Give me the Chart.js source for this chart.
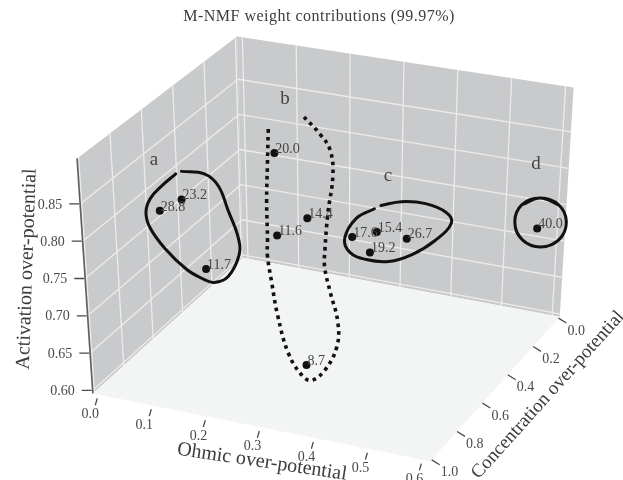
<!DOCTYPE html>
<html>
<head>
<meta charset="utf-8">
<style>
  html, body { margin: 0; padding: 0; background: #fff; }
  #wrap { width: 623px; height: 480px; }
</style>
<script src="https://cdn.jsdelivr.net/npm/chart.js@4/dist/chart.umd.min.js"></script>
</head>
<body>
<div id="wrap"><canvas id="chart" width="623" height="480"></canvas></div>
<script>
const ohmicTicks      = [0.0, 0.1, 0.2, 0.3, 0.4, 0.5, 0.6];
const concTicks       = [0.0, 0.2, 0.4, 0.6, 0.8, 1.0];
const activationTicks = [0.60, 0.65, 0.70, 0.75, 0.80, 0.85];

const weights       = [28.8, 23.2, 11.7, 20.0, 14.4, 11.6, 8.7, 17.6, 15.4, 19.2, 26.7, 40.0];
const ohmic         = [0.045, 0.086, 0.126, 0.187, 0.246, 0.189, 0.287, 0.261, 0.308, 0.295, 0.365, 0.574];
const concentration = [0.704, 0.704, 0.704, 0.449, 0.449, 0.449, 0.622, 0.194, 0.194, 0.194, 0.194, 0.041];
const activation    = [0.797, 0.818, 0.729, 0.851, 0.769, 0.738, 0.606, 0.699, 0.712, 0.682, 0.710, 0.722];

// hand-drawn group outlines, read on the concentration = 0.5 plane
const outlineConc = 0.5;
const aOhmic = [0.029, 0.071, 0.096, 0.113, 0.130, 0.131, 0.109, 0.082, 0.062, 0.031, -0.009, -0.035, -0.041, -0.032, -0.009, 0.018];
const aActiv = [0.814, 0.816, 0.803, 0.771, 0.737, 0.713, 0.680, 0.668, 0.670, 0.679, 0.703, 0.728, 0.748, 0.768, 0.789, 0.809];
const bOhmic = [0.191, 0.188, 0.185, 0.185, 0.184, 0.191, 0.201, 0.220, 0.246, 0.263, 0.289, 0.313, 0.315, 0.301, 0.291, 0.292, 0.298, 0.308, 0.303, 0.285, 0.253];
const bActiv = [0.893, 0.844, 0.794, 0.740, 0.720, 0.683, 0.639, 0.590, 0.563, 0.559, 0.576, 0.612, 0.646, 0.685, 0.718, 0.741, 0.791, 0.846, 0.879, 0.898, 0.920];
const cOhmic = [0.396, 0.434, 0.478, 0.516, 0.526, 0.497, 0.454, 0.411, 0.369, 0.338, 0.329, 0.351, 0.384];
const cActiv = [0.815, 0.825, 0.828, 0.821, 0.808, 0.781, 0.756, 0.741, 0.738, 0.744, 0.762, 0.792, 0.809];
// first and last two repeat so the ring closes smoothly
const dOhmic = [0.654, 0.687, 0.721, 0.736, 0.724, 0.691, 0.657, 0.642, 0.654, 0.687, 0.721];
const dActiv = [0.849, 0.862, 0.857, 0.836, 0.811, 0.797, 0.802, 0.824, 0.849, 0.862, 0.857];

const OHMIC_LIM = [-0.01, 0.615];
const CONC_LIM  = [-0.01, 1.01];
const ACTIV_LIM = [0.596, 0.911];

// where the box corners land in the view plane (b = back, l = left, f = front, r = right)
const BOX = {
  floor: { b: [242, 258], l: [90, 396],  f: [432, 465], r: [563, 318] },
  top:   { b: [236, 33],  l: [74, 157],  f: [432, 222], r: [577, 85] },
};

const lerp = (a, b, t) => a + (b - a) * t;

function project(o, c, z) {
  const u = (o - OHMIC_LIM[0]) / (OHMIC_LIM[1] - OHMIC_LIM[0]);
  const v = (c - CONC_LIM[0])  / (CONC_LIM[1] - CONC_LIM[0]);
  const t = (z - ACTIV_LIM[0]) / (ACTIV_LIM[1] - ACTIV_LIM[0]);
  const at = (p, i) => lerp(lerp(p.b[i], p.l[i], v), lerp(p.r[i], p.f[i], v), u);
  return { x: lerp(at(BOX.floor, 0), at(BOX.top, 0), t), y: lerp(at(BOX.floor, 1), at(BOX.top, 1), t) };
}

const [oLo, oHi] = OHMIC_LIM;
const [cLo, cHi] = CONC_LIM;
const [zLo, zHi] = ACTIV_LIM;
const GAP = { x: null, y: null };

function gridPoints() {
  const pts = [];
  activationTicks.forEach(z => pts.push(project(oLo, cHi, z), project(oLo, cLo, z), project(oHi, cLo, z), GAP));
  ohmicTicks.forEach(o => pts.push(project(o, cLo, zLo), project(o, cLo, zHi), GAP));
  concTicks.forEach(c => pts.push(project(oLo, c, zLo), project(oLo, c, zHi), GAP));
  return pts;
}

function tickPoints() {
  const pts = [];
  ohmicTicks.forEach(o => {
    const p = project(o, cHi, zLo);
    pts.push({ x: p.x - 1, y: p.y + 4 }, { x: p.x - 3, y: p.y + 11 }, GAP);
  });
  concTicks.forEach(c => {
    const p = project(oHi, c, zLo);
    pts.push(p, { x: p.x + 8, y: p.y + 5 }, GAP);
  });
  activationTicks.forEach(z => {
    const p = project(oLo, cHi, z);
    pts.push({ x: p.x - 1, y: p.y }, { x: p.x - 11, y: p.y }, GAP);
  });
  return pts;
}

const outline = (os, zs) => os.map((o, i) => project(o, outlineConc, zs[i]));

const pane = (pts, color) => ({
  data: pts, showLine: true, fill: 'shape', backgroundColor: color,
  borderWidth: 0, pointRadius: 0, tension: 0, order: 50,
});
const stroke = (pts, color, width, extra) => Object.assign({
  data: pts, showLine: true, fill: false, borderColor: color, borderWidth: width,
  pointRadius: 0, tension: 0, spanGaps: false, order: 30,
}, extra);

const curve = { tension: 0.4, order: 10, borderCapStyle: 'round' };

const textPlugin = {
  id: 'textPlugin',
  afterDatasetsDraw(chart) {
    const { ctx, scales } = chart;
    const X = v => scales.x.getPixelForValue(v);
    const Y = v => scales.y.getPixelForValue(v);

    function text(str, x, y, font, color, align, rot) {
      ctx.save();
      ctx.translate(x, y);
      if (rot) ctx.rotate(rot * Math.PI / 180);
      ctx.font = font;
      ctx.fillStyle = color;
      ctx.textAlign = align || 'center';
      ctx.textBaseline = 'middle';
      ctx.fillText(str, 0, 0);
      ctx.restore();
    }

    const SERIF = '"Liberation Serif", serif';
    ctx.save();
    ctx.letterSpacing = '0.5px';
    text('M-NMF weight contributions (99.97%)', 319, 17, `16px ${SERIF}`, '#3c3c3c');
    ctx.restore();

    const tickFont = `14px ${SERIF}`;
    ohmicTicks.forEach(o => {
      const p = project(o, cHi, zLo);
      text(o.toFixed(1), X(p.x - 8), Y(p.y + 20), tickFont, '#4a4a4a');
    });
    concTicks.forEach(c => {
      const p = project(oHi, c, zLo);
      text(c.toFixed(1), X(p.x + 18), Y(p.y + 13), tickFont, '#4a4a4a');
    });
    activationTicks.forEach(z => {
      const p = project(oLo, cHi, z);
      text(z.toFixed(2), X(p.x - 18), Y(p.y + 1), tickFont, '#4a4a4a', 'right');
    });

    weights.forEach((w, i) => {
      const p = project(ohmic[i], concentration[i], activation[i]);
      text(w.toFixed(1), X(p.x + 1), Y(p.y - 4), tickFont, '#454545', 'left');
    });

    text('Ohmic over-potential', 262, 462, `20px ${SERIF}`, '#3c3c3c', 'center', 8.5);
    text('Concentration over-potential', 548, 395, `19px ${SERIF}`, '#3c3c3c', 'center', -48);
    text('Activation over-potential', 27, 269, `20px ${SERIF}`, '#3c3c3c', 'center', -88);

    const groupFont = `19px ${SERIF}`;
    text('a', 154, 160, groupFont, '#444');
    text('b', 285, 99,  groupFont, '#444');
    text('c', 388, 176, groupFont, '#444');
    text('d', 536, 164, groupFont, '#444');
  },
};

new Chart(document.getElementById('chart'), {
  type: 'scatter',
  data: {
    datasets: [
      pane([project(oHi, cHi, zLo), project(oHi, cLo, zLo), project(oLo, cLo, zLo), project(oLo, cHi, zLo)], '#f3f5f5'),
      pane([project(oLo, cHi, zLo), project(oLo, cLo, zLo), project(oLo, cLo, zHi), project(oLo, cHi, zHi)], '#c9cacc'),
      pane([project(oLo, cLo, zLo), project(oHi, cLo, zLo), project(oHi, cLo, zHi), project(oLo, cLo, zHi)], '#c9cacc'),
      stroke(gridPoints(), '#ececec', 1.3, { order: 40 }),
      stroke([project(oLo, cHi, zHi), project(oLo, cHi, zLo)], '#5f5f5f', 1.6),
      stroke(tickPoints(), '#4a4a4a', 1.3),
      stroke(outline(aOhmic, aActiv), '#111', 3, curve),
      stroke(outline(bOhmic, bActiv), '#111', 3.6, Object.assign({}, curve, { borderDash: [3.6, 4.2], borderCapStyle: 'butt' })),
      stroke(outline(cOhmic, cActiv), '#111', 3, curve),
      stroke(outline(dOhmic, dActiv), '#111', 3, curve),
      {
        data: weights.map((w, i) => project(ohmic[i], concentration[i], activation[i])),
        showLine: false, pointRadius: 4, backgroundColor: '#111', borderWidth: 0, order: 5,
      },
    ],
  },
  options: {
    responsive: false,
    animation: false,
    layout: { padding: 0 },
    events: [],
    plugins: { legend: { display: false }, tooltip: { enabled: false } },
    scales: {
      x: { type: 'linear', min: 0, max: 623, display: false },
      y: { type: 'linear', min: 0, max: 480, reverse: true, display: false },
    },
  },
  plugins: [textPlugin],
});
</script>
</body>
</html>
